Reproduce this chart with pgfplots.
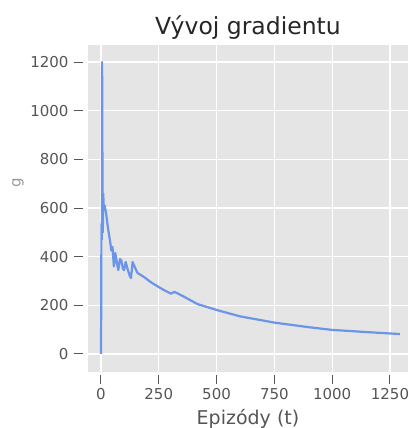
\documentclass[border=0pt]{standalone}
\usepackage{pgfplots}
\pgfplotsset{compat=1.18}
\usepackage{fontspec}
\setmainfont{DejaVu Sans}
\definecolor{bgg}{HTML}{E5E5E5}
\definecolor{lineblue}{HTML}{6A95E8}
\definecolor{tickgray}{HTML}{555555}
\begin{document}
\begin{tikzpicture}
\begin{axis}[
  at={(88pt,56pt)}, anchor=south west,
  scale only axis, width=320pt, height=327pt,
  xmin=-56, xmax=1328, ymin=-74, ymax=1270,
  clip=false,
  axis background/.style={fill=bgg},
  axis line style={draw=none},
  grid=major, grid style={white, line width=1.2pt},
  xtick={0,250,500,750,1000,1250},
  ytick={0,200,400,600,800,1000,1200},
  major tick length=0pt,
  tick label style={font=\fontsize{15}{17}\selectfont, text=tickgray},
  xticklabel style={yshift=-13pt},
  yticklabel style={xshift=-16pt},
  /pgf/number format/assume math mode=true,
  /pgf/number format/1000 sep={},
  xlabel={Epizódy (t)},
  xlabel style={font=\fontsize{19}{21}\selectfont, text=tickgray, yshift=-3pt},
  ylabel={g},
  ylabel style={font=\fontsize{15}{17}\selectfont, text=tickgray!60, at={(axis description cs:-0.19,0.58)}},
  title={Vývoj gradientu},
  title style={font=\fontsize{23.5}{26}\selectfont, text=black!85, yshift=-4pt},
]
\addplot[lineblue, line width=2.2pt, line join=round] coordinates {
(0,0) (1,160) (2,500) (3,540) (4,470) (5,1200) (6,900) (7,650) (8,500) (10,660)
(12,600) (16,610) (22,580) (30,520) (40,460) (45,425) (50,440) (56,360) (62,415)
(70,370) (75,345) (82,390) (88,385) (95,350) (100,345) (107,378) (115,350)
(125,320) (130,312) (137,378) (145,360) (158,333) (187,316) (216,295) (250,275)
(274,262) (303,248) (317,255) (330,250) (360,235) (418,205) (500,181) (600,155)
(750,129) (900,110) (1000,99) (1150,90) (1293,82)
};
\pgfplotsinvokeforeach{0,250,500,750,1000,1250}{
  \draw[tickgray, line width=1pt] ([yshift=-3pt]axis cs:#1,-74) -- ([yshift=-12pt]axis cs:#1,-74);
}
\pgfplotsinvokeforeach{0,200,400,600,800,1000,1200}{
  \draw[tickgray, line width=1pt] ([xshift=-5pt]axis cs:-56,#1) -- ([xshift=-14pt]axis cs:-56,#1);
}
\end{axis}
\pgfresetboundingbox
\path[use as bounding box] (0pt,0pt) rectangle (409pt,428pt);
\end{tikzpicture}
\end{document}
